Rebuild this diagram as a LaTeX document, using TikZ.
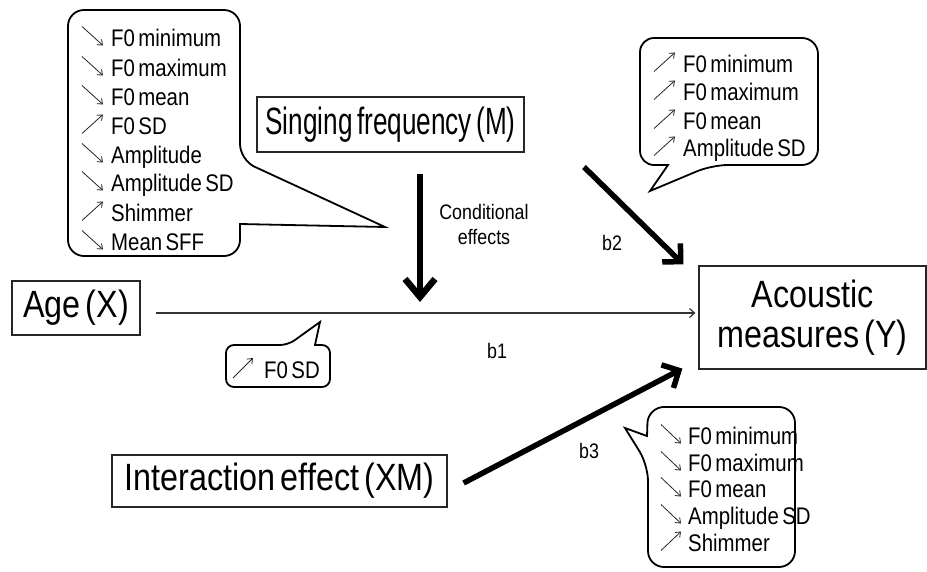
\documentclass[tikz,border=0pt]{standalone}
\usepackage{fontspec}
\setmainfont{Liberation Sans}[WordSpace=0.6, FakeStretch=0.85]
\usetikzlibrary{arrows.meta,calc}
\begin{document}
\begin{tikzpicture}[x=1pt,y=1pt,
  box/.style={draw=black!85, line width=1.2pt, inner sep=0pt, align=center,
    font=\fontsize{38}{40}\selectfont},
  item/.style={anchor=base west, inner sep=0pt, font=\fontsize{24}{26}\selectfont},
  lbl/.style={inner sep=0pt, align=center, font=\fontsize{21}{25}\selectfont},
  glyph/.style={line width=0.8pt, draw=black!85, -{Straight Barb[length=4.5pt,width=7pt]}},
  bubble/.style={line width=1.8pt, rounded corners=16pt},
  bigarrow/.style={line width=5.5pt, -{Straight Barb[length=13pt,width=26pt,line width=5.5pt]}},
  condarrow/.style={line width=6.5pt, -{Straight Barb[length=18pt,width=30pt,line width=6.5pt]}},
  thinarrow/.style={line width=1.2pt, draw=black!80, -{Straight Barb[length=5pt,width=9pt]}}
]
\fill[white] (0,0) rectangle (927,-572);
\useasboundingbox (0,0) rectangle (927,-572);

% main boxes
\node[box, minimum width=128, minimum height=54] (age) at (76,-308) {Age (X)};
\node[box, minimum width=267, minimum height=55] (sing) at (390.5,-124.5) {\scalebox{0.81}[1]{Singing frequency (M)}};
\node[box, minimum width=335, minimum height=52] (inter) at (279.5,-481) {Interaction effect (XM)};
\node[box, minimum width=227, minimum height=103] (acou) at (812.5,-317.5) {Acoustic\\measures (Y)};

% connectors
\coordinate (condend) at (420,-302);
\coordinate (b2s) at (584,-167);
\draw[thinarrow] ([xshift=15pt,yshift=-5pt]age.east) -- ([xshift=-3pt,yshift=-5pt]age.east -| acou.west);
\draw[condarrow] ([yshift=-21pt]sing.south -| condend) -- (condend);
\draw[bigarrow] (b2s) -- ([xshift=-15pt,yshift=1pt]acou.north west);
\draw[bigarrow] ([xshift=16pt,yshift=-2pt]inter.east) -- ([xshift=-16pt,yshift=1pt]acou.south west);

% labels
\node[lbl] (cond) at (484,-224) {Conditional\\effects};
\node[lbl] (b1) at (497,-351) {b1};
\node[lbl] (b2) at (612,-243) {b2};
\node[lbl] (b3) at (589,-451) {b3};

% left bubble
\draw[bubble] (150,-10) -- (240,-10) -- (240,-160) [sharp corners] -- (385,-227) -- (240,-224) [rounded corners=16pt] -- (240,-256) -- (68,-256) -- (68,-10) -- cycle;
\foreach \t/\d/\y [count=\i] in {F0 minimum/d/38, F0 maximum/d/68, F0 mean/d/97, F0 SD/u/126, Amplitude/d/155, Amplitude SD/d/183, Shimmer/u/213, Mean SFF/d/242}{
  \node[item] (L\i) at (111,-\y-8.5) {\t};
  \if\d d
    \draw[glyph] ([shift={(-29,20)}]L\i.base west) -- ([shift={(-8,1)}]L\i.base west);
  \else
    \draw[glyph] ([shift={(-29,1)}]L\i.base west) -- ([shift={(-8,20)}]L\i.base west);
  \fi
}

% top right bubble
\draw[bubble] (700,-38) -- (818,-38) -- (818,-165) -- (712,-165) [sharp corners] -- (650,-191) -- (668,-165) [rounded corners=14pt] -- (640,-165) -- (640,-38) -- cycle;
\foreach \t/\y [count=\i] in {F0 minimum/64, F0 maximum/92, F0 mean/121, Amplitude SD/148}{
  \node[item] (R\i) at (683,-\y-8.5) {\t};
  \draw[glyph] ([shift={(-29,1)}]R\i.base west) -- ([shift={(-8,20)}]R\i.base west);
}

% bottom right bubble
\draw[bubble] (720,-407) -- (795,-407) -- (795,-567) -- (648,-567) -- (648,-465) [sharp corners] -- (625,-428) -- (647,-436) [rounded corners=16pt] -- (648,-407) -- cycle;
\foreach \t/\d/\y [count=\i] in {F0 minimum/d/436, F0 maximum/d/463, F0 mean/d/489, Amplitude SD/d/516, Shimmer/u/543}{
  \node[item] (B\i) at (688,-\y-8.5) {\t};
  \if\d d
    \draw[glyph] ([shift={(-27,20)}]B\i.base west) -- ([shift={(-7,1)}]B\i.base west);
  \else
    \draw[glyph] ([shift={(-27,1)}]B\i.base west) -- ([shift={(-7,20)}]B\i.base west);
  \fi
}

% small bubble
\draw[bubble, rounded corners=8pt] (260,-345) -- (288,-345) [sharp corners] -- (320,-322) -- (315,-345) [rounded corners=8pt] -- (330,-345) -- (330,-387) -- (226,-387) -- (226,-345) -- cycle;
\node[item] (S1) at (264,-378) {F0 SD};
\draw[glyph] ([shift={(-31,0)}]S1.base west) -- ([shift={(-11,20)}]S1.base west);
\end{tikzpicture}
\end{document}
